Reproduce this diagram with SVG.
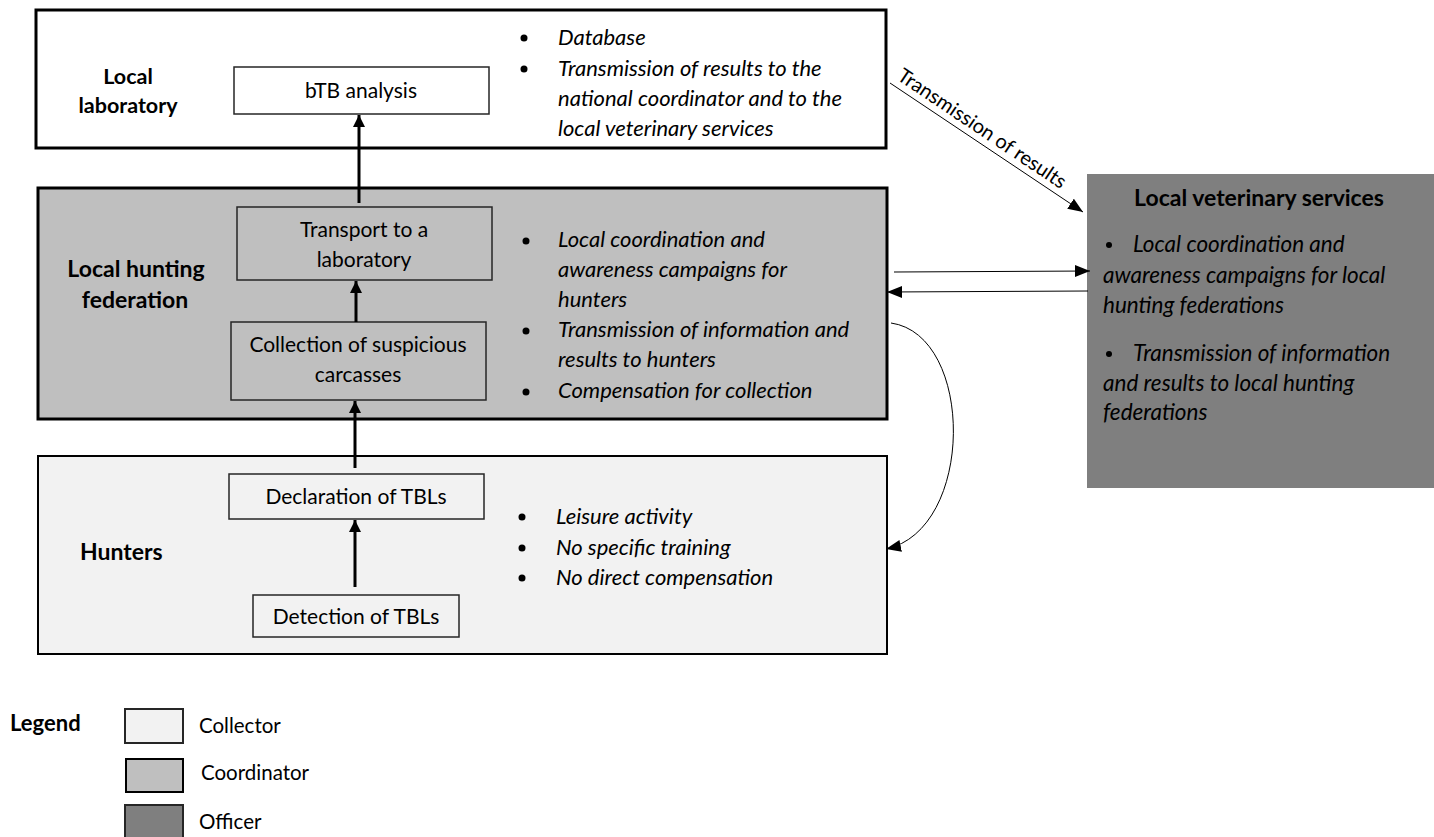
<svg xmlns="http://www.w3.org/2000/svg" width="1434" height="837" viewBox="0 0 1434 837">
<style>
.t{font-family:Lato,"Liberation Sans",sans-serif;fill:#000}
.b{font-weight:bold}
.i{font-style:italic}
.lab{font-size:21.5px}
.lab2{font-size:23px}
.n{font-size:21px}
.it{font-size:22px}
.outer{stroke:#000;stroke-width:3}
.inner{stroke:#262626;stroke-width:1.5}
</style>
<defs>
<marker id="ah" markerWidth="14" markerHeight="14" refX="12" refY="6" orient="auto" markerUnits="userSpaceOnUse"><path d="M0,0 L12,6 L0,12 Z" fill="#000"/></marker>
<marker id="ah2" markerWidth="16" markerHeight="14" refX="15" refY="6" orient="auto" markerUnits="userSpaceOnUse"><path d="M0,0 L15,6 L0,12 Z" fill="#000"/></marker>
</defs>
<rect width="1434" height="837" fill="#fff"/>

<g id="lab">
<rect x="36" y="10" width="850" height="138" fill="#fff" class="outer"/>
<text class="t b lab" text-anchor="middle"><tspan x="128" y="84">Local</tspan><tspan x="128" y="113">laboratory</tspan></text>
<text class="t i it"><tspan x="558" y="45">Database</tspan><tspan x="558" y="76">Transmission of results to the</tspan><tspan x="558" y="106">national coordinator and to the</tspan><tspan x="558" y="136">local veterinary services</tspan></text>
<circle cx="524" cy="38" r="3.5"/><circle cx="524" cy="69" r="3.5"/>
</g>
<g id="btb">
<rect x="234" y="67" width="255" height="47" fill="#fff" class="inner"/>
<text class="t n" x="361" y="98" text-anchor="middle">bTB analysis</text>
</g>

<g id="fed">
<rect x="38" y="188" width="849" height="231" fill="#bfbfbf" class="outer"/>
<text class="t b lab2" text-anchor="middle"><tspan x="136" y="277">Local hunting</tspan><tspan x="135" y="308">federation</tspan></text>
<text class="t i it"><tspan x="558" y="247">Local coordination and</tspan><tspan x="558" y="277">awareness campaigns for</tspan><tspan x="558" y="307">hunters</tspan><tspan x="558" y="337">Transmission of information and</tspan><tspan x="558" y="367">results to hunters</tspan><tspan x="558" y="398">Compensation for collection</tspan></text>
<circle cx="526" cy="241" r="3.5"/><circle cx="526" cy="331" r="3.5"/><circle cx="526" cy="392" r="3.5"/>
</g>
<g id="transport">
<rect x="237" y="207" width="255" height="73" fill="#bfbfbf" class="inner"/>
<text class="t n" text-anchor="middle"><tspan x="364" y="237">Transport to a</tspan><tspan x="364" y="267">laboratory</tspan></text>
</g>
<g id="collection">
<rect x="231" y="322" width="255" height="78" fill="#bfbfbf" class="inner"/>
<text class="t n" text-anchor="middle"><tspan x="358" y="352">Collection of suspicious</tspan><tspan x="358" y="382">carcasses</tspan></text>
</g>

<g id="hunters">
<rect x="38" y="456" width="849" height="198" fill="#f2f2f2" stroke="#000" stroke-width="2"/>
<text class="t b lab2" x="80" y="560">Hunters</text>
<text class="t i it"><tspan x="556" y="524">Leisure activity</tspan><tspan x="556" y="555">No specific training</tspan><tspan x="556" y="585">No direct compensation</tspan></text>
<circle cx="522" cy="517" r="3.5"/><circle cx="522" cy="548" r="3.5"/><circle cx="522" cy="578" r="3.5"/>
</g>
<g id="declaration">
<rect x="229" y="474" width="255" height="45" fill="#f2f2f2" class="inner"/>
<text class="t n" x="356" y="504" text-anchor="middle">Declaration of TBLs</text>
</g>
<g id="detection">
<rect x="253" y="595" width="206" height="42" fill="#f2f2f2" class="inner"/>
<text class="t n" x="356" y="624" text-anchor="middle">Detection of TBLs</text>
</g>

<g id="vet">
<rect x="1087" y="174" width="347" height="314" fill="#7f7f7f"/>
<text class="t b lab2" x="1259" y="206" text-anchor="middle">Local veterinary services</text>
<text class="t i" font-size="22.5px"><tspan x="1133" y="252">Local coordination and</tspan><tspan x="1103" y="283">awareness campaigns for local</tspan><tspan x="1103" y="313">hunting federations</tspan><tspan x="1133" y="361">Transmission of information</tspan><tspan x="1103" y="391">and results to local hunting</tspan><tspan x="1103" y="420">federations</tspan></text>
<circle cx="1109" cy="245" r="3"/><circle cx="1109" cy="354" r="3"/>
</g>

<g id="connectors" fill="none" stroke="#000">
<line x1="359" y1="203" x2="359" y2="115" stroke-width="3" marker-end="url(#ah)"/>
<line x1="356" y1="322" x2="356" y2="281" stroke-width="3" marker-end="url(#ah)"/>
<line x1="355" y1="468" x2="355" y2="401" stroke-width="3" marker-end="url(#ah)"/>
<line x1="355" y1="587" x2="355" y2="520" stroke-width="3" marker-end="url(#ah)"/>
<line x1="890" y1="83" x2="1083" y2="212" stroke-width="1" marker-end="url(#ah2)"/>
<line x1="894" y1="272" x2="1090" y2="271" stroke-width="1" marker-end="url(#ah2)"/>
<line x1="1088" y1="291" x2="887" y2="292" stroke-width="1" marker-end="url(#ah2)"/>
<path d="M891,323 C975,335 975,530 886,549" stroke-width="1" marker-end="url(#ah2)"/>
<text class="t" font-size="20" stroke="none" transform="translate(896,79) rotate(33.8)">Transmission of results</text>
</g>

<g id="legend">
<text class="t b" font-size="22" x="10" y="731">Legend</text>
<rect x="125" y="709" width="58" height="34" fill="#f2f2f2" stroke="#262626" stroke-width="2"/>
<rect x="126" y="759" width="57" height="33" fill="#bfbfbf" stroke="#000" stroke-width="2"/>
<rect x="125" y="805" width="58" height="40" fill="#7f7f7f" stroke="#262626" stroke-width="2"/>
<text class="t" font-size="20.5" x="199" y="733">Collector</text>
<text class="t" font-size="20.5" x="201" y="780">Coordinator</text>
<text class="t" font-size="20.5" x="199" y="829">Officer</text>
</g>
</svg>
